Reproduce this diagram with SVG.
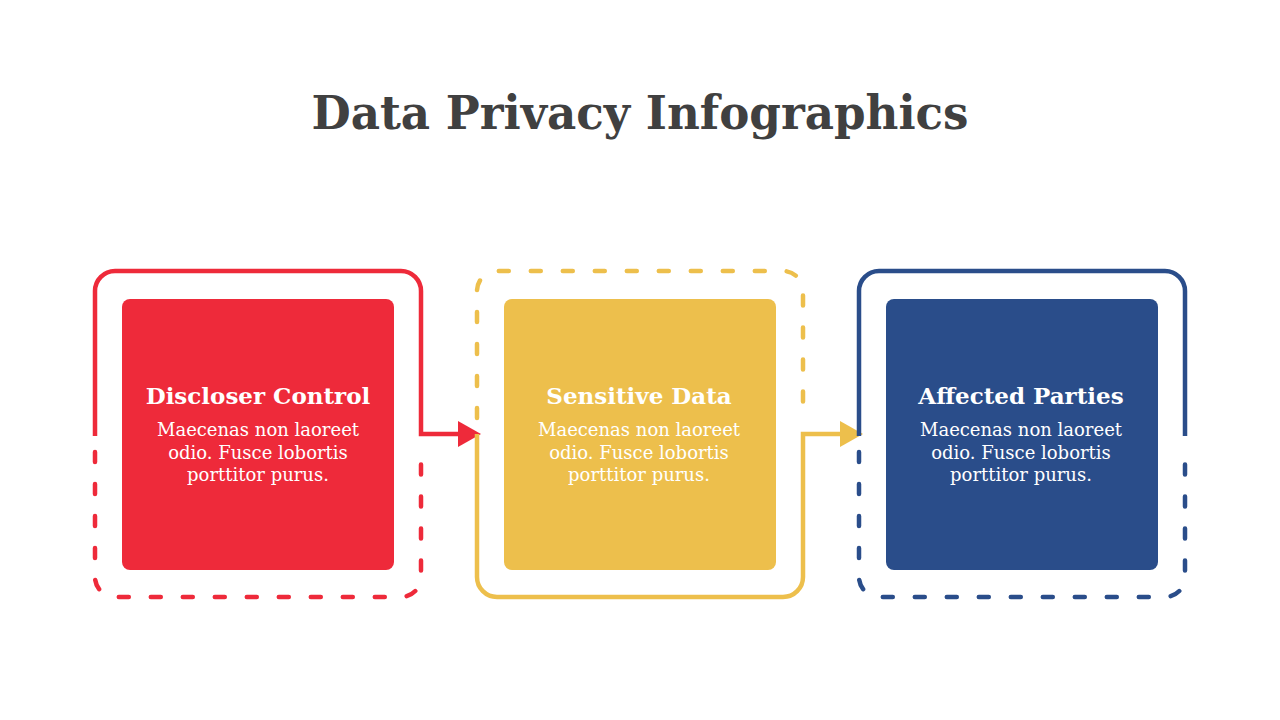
<svg xmlns="http://www.w3.org/2000/svg" width="1280" height="720" viewBox="0 0 1280 720">
<style>
.t{font-family:"DejaVu Serif","Liberation Serif",serif;fill:#fff;text-anchor:middle}
.h{font-size:23px;font-weight:bold}
.b{font-size:18px}
.ln{fill:none;stroke-width:4.5}
.d{stroke-dasharray:10 22;stroke-linecap:round}
</style>
<rect width="1280" height="720" fill="#fff"/>
<text x="640" y="129" font-family="DejaVu Serif, Liberation Serif, serif" font-weight="bold" font-size="46" fill="#404040" text-anchor="middle" textLength="657" lengthAdjust="spacingAndGlyphs">Data Privacy Infographics</text>
<g id="connectors">
<path class="ln" stroke="#EE2A3A" d="M95,436 V291 A20,20 0 0 1 115,271 H401 A20,20 0 0 1 421,291 V434 H460"/>
<polygon fill="#EE2A3A" points="458,421 481,434 458,447"/>
<path class="ln d" stroke="#EE2A3A" d="M95,452 V577 A20,20 0 0 0 115,597 H401 A20,20 0 0 0 421,577 V452"/>
<path class="ln" stroke="#EDBF4C" d="M477,434 V577 A20,20 0 0 0 497,597 H783 A20,20 0 0 0 803,577 V434 H842"/>
<polygon fill="#EDBF4C" points="840,421 863,434 840,447"/>
<path class="ln d" stroke="#EDBF4C" d="M477,418 V291 A20,20 0 0 1 497,271 H783 A20,20 0 0 1 803,291 V418"/>
<path class="ln" stroke="#2A4D8A" d="M859,436 V291 A20,20 0 0 1 879,271 H1165 A20,20 0 0 1 1185,291 V436"/>
<path class="ln d" stroke="#2A4D8A" d="M859,452 V577 A20,20 0 0 0 879,597 H1165 A20,20 0 0 0 1185,577 V452"/>
</g>
<g id="node1">
<rect x="122" y="299" width="272" height="271" rx="8" fill="#EE2A3A"/>
<text class="t h" x="258" y="404">Discloser Control</text>
<text class="t b" x="258" y="436">Maecenas non laoreet</text>
<text class="t b" x="258" y="459">odio. Fusce lobortis</text>
<text class="t b" x="258" y="481">porttitor purus.</text>
</g>
<g id="node2">
<rect x="504" y="299" width="272" height="271" rx="8" fill="#EDBF4C"/>
<text class="t h" x="639" y="404">Sensitive Data</text>
<text class="t b" x="639" y="436">Maecenas non laoreet</text>
<text class="t b" x="639" y="459">odio. Fusce lobortis</text>
<text class="t b" x="639" y="481">porttitor purus.</text>
</g>
<g id="node3">
<rect x="886" y="299" width="272" height="271" rx="8" fill="#2A4D8A"/>
<text class="t h" x="1021" y="404">Affected Parties</text>
<text class="t b" x="1021" y="436">Maecenas non laoreet</text>
<text class="t b" x="1021" y="459">odio. Fusce lobortis</text>
<text class="t b" x="1021" y="481">porttitor purus.</text>
</g>
</svg>
